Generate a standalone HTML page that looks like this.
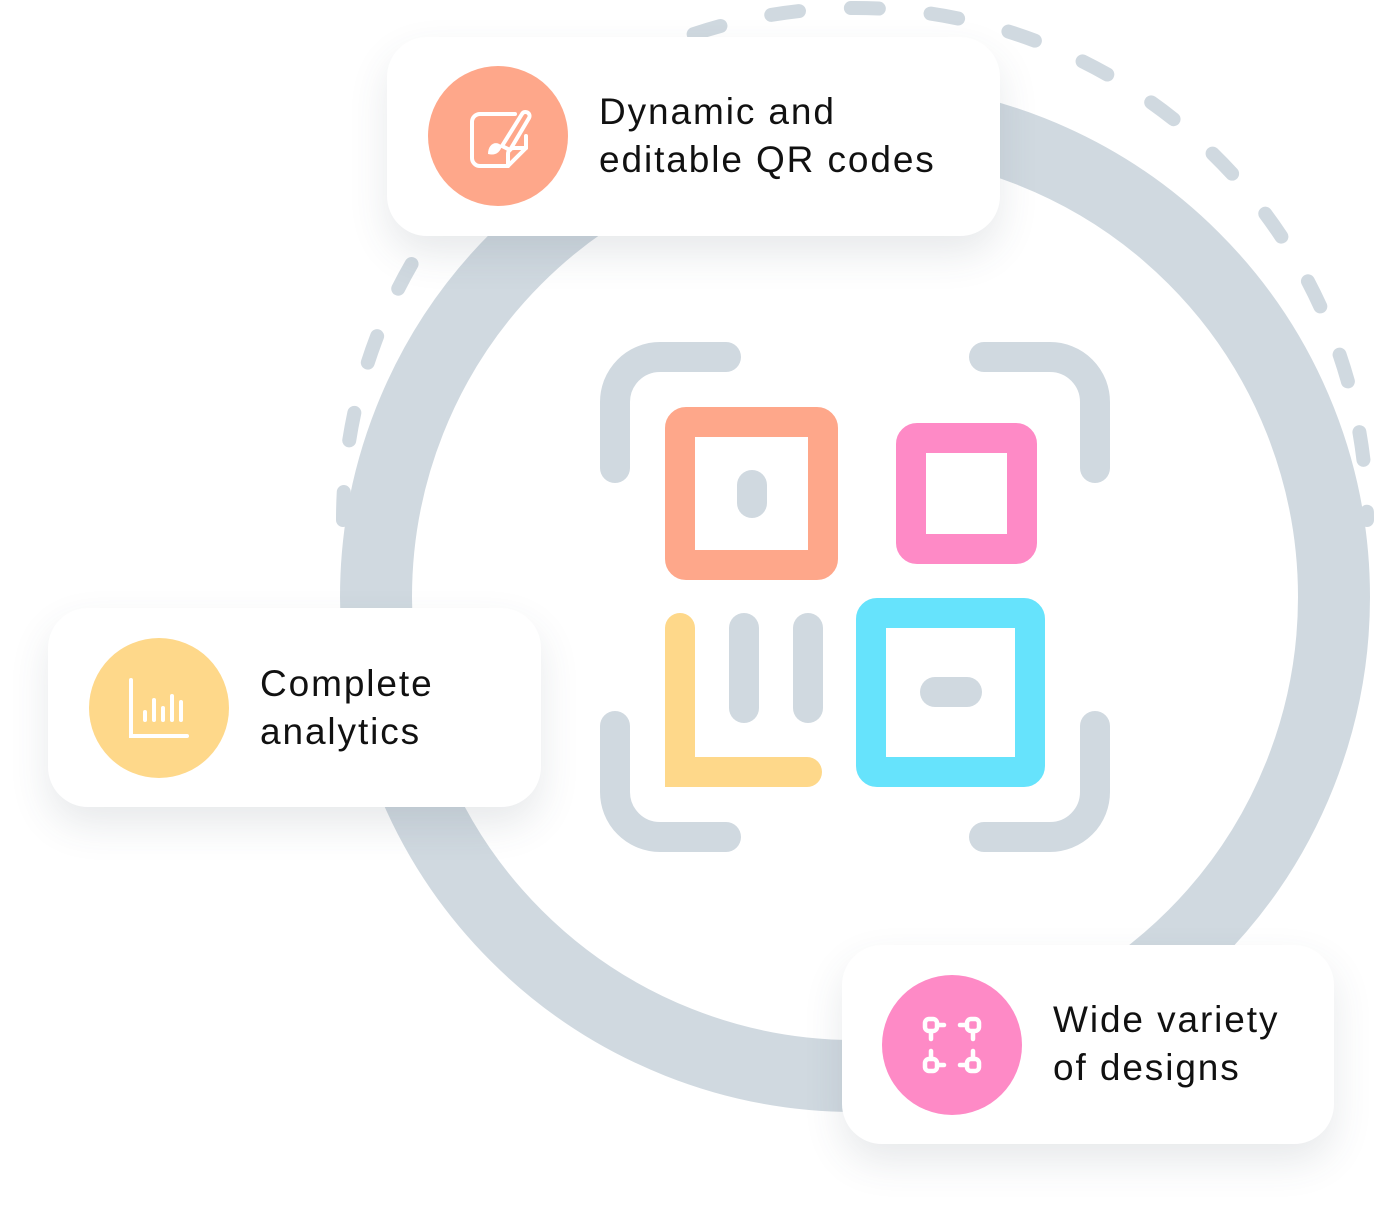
<!DOCTYPE html>
<html><head><meta charset="utf-8"><style>
html,body{margin:0;padding:0;background:#fff;width:1384px;height:1208px;overflow:hidden;position:relative;font-family:"Liberation Sans",sans-serif}
svg.bg{position:absolute;left:0;top:0}
.card{position:absolute;background:#fff;border-radius:40px;box-shadow:0 18px 40px rgba(60,70,90,0.12)}
.circ{position:absolute;width:140px;height:140px;border-radius:50%}
.txt{position:absolute;font-size:37px;line-height:48px;color:#111;letter-spacing:1.9px}
.circ svg{position:absolute;left:0;top:0}
</style></head><body>
<svg class="bg" width="1384" height="1208">
<path d="M343,520 A512,512 0 0 1 1367,520" fill="none" stroke="#d0d9e0" stroke-width="14" stroke-linecap="round" stroke-dasharray="28 52"/>
<circle cx="855" cy="597" r="479" fill="none" stroke="#d0d9e0" stroke-width="72"/>
<g fill="none" stroke="#d0d9e0" stroke-width="30" stroke-linecap="round">
<path d="M615,468 V402 A45,45 0 0 1 660,357 H726"/>
<path d="M984,357 H1050 A45,45 0 0 1 1095,402 V468"/>
<path d="M615,726 V792 A45,45 0 0 0 660,837 H726"/>
<path d="M984,837 H1050 A45,45 0 0 0 1095,792 V726"/>
<path d="M752,485 V503"/>
<path d="M744,628 V708"/>
<path d="M808,628 V708"/>
<path d="M935,692 H967"/>
</g>
<rect x="680" y="422" width="143" height="143" rx="6" fill="none" stroke="#fea78a" stroke-width="30"/>
<rect x="911" y="438" width="111" height="111" rx="6" fill="none" stroke="#fe8ac6" stroke-width="30"/>
<rect x="871" y="613" width="159" height="159" rx="6" fill="none" stroke="#66e3fc" stroke-width="30"/>
<path d="M680,628 V772 H807" fill="none" stroke="#fed88a" stroke-width="30" stroke-linecap="round"/>
</svg>

<div class="card" style="left:387px;top:37px;width:613px;height:199px"></div>
<div class="circ" style="left:428px;top:66px;background:#fea78a">
<svg width="140" height="140"><g fill="none" stroke="#fff" stroke-width="4" stroke-linecap="round" stroke-linejoin="round">
<path d="M87,48 H52 A8,8 0 0 0 44,56 V92 A8,8 0 0 0 52,100 H80 L98,82 V70"/>
<path d="M98,82 H86 A6,6 0 0 0 80,88 V100"/>
<path d="M74,80 L94,48 A4,4 0 0 1 101,52 L82,84 Z"/>
</g><path d="M60,88 C60,78 68,74 74,80 C72,86 68,90 60,88 Z" fill="#fff"/></svg></div>
<div class="txt" style="left:599px;top:88px">Dynamic and<br>editable QR codes</div>

<div class="card" style="left:48px;top:608px;width:493px;height:199px"></div>
<div class="circ" style="left:89px;top:638px;background:#fed88a">
<svg width="140" height="140"><g fill="none" stroke="#fff" stroke-width="4" stroke-linecap="round">
<path d="M42,42 V98 H98"/><path d="M56,82 V74"/><path d="M65,82 V62"/><path d="M74,82 V70"/><path d="M83,82 V58"/><path d="M92,82 V64"/>
</g></svg></div>
<div class="txt" style="left:260px;top:660px">Complete<br>analytics</div>

<div class="card" style="left:842px;top:945px;width:492px;height:199px"></div>
<div class="circ" style="left:882px;top:975px;background:#fe8ac6">
<svg width="140" height="140"><g fill="none" stroke="#fff" stroke-width="4.5" stroke-linecap="round">
<rect x="43" y="44" width="12" height="12" rx="4"/><rect x="85" y="44" width="12" height="12" rx="4"/>
<rect x="43" y="84" width="12" height="12" rx="4"/><rect x="85" y="84" width="12" height="12" rx="4"/>
<path d="M57,50 H62"/><path d="M78,50 H83"/><path d="M57,90 H62"/><path d="M78,90 H83"/>
<path d="M49,58 V64"/><path d="M49,76 V82"/><path d="M91,58 V64"/><path d="M91,76 V82"/>
</g></svg></div>
<div class="txt" style="left:1053px;top:996px">Wide variety<br>of designs</div>
</body></html>
